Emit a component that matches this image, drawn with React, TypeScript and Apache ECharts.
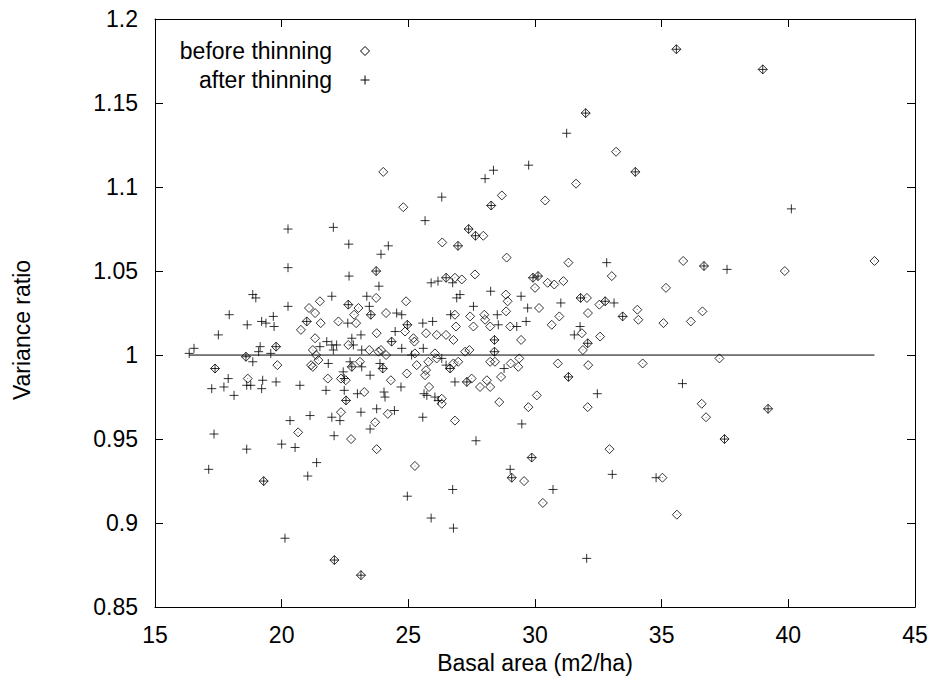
import React, { useEffect, useRef } from "react";
import * as echarts from "echarts";

// Basal area (m2/ha), variance ratio
const bothPeriods: [number, number][] = [
  [32.0, 1.144], [28.27, 1.089], [26.96, 1.065], [27.38, 1.075], [27.65, 1.071],
  [35.58, 1.182], [38.99, 1.17], [33.96, 1.109], [36.67, 1.053], [23.73, 1.05],
  [22.63, 1.03], [23.52, 1.024], [20.99, 1.02], [24.96, 1.018], [26.49, 1.046],
  [29.92, 1.046], [30.12, 1.047], [31.8, 1.034], [18.59, 0.999], [19.78, 1.005],
  [17.37, 0.992], [24.34, 1.008], [22.77, 0.993], [23.99, 0.992], [22.54, 0.973],
  [28.4, 1.009], [32.08, 1.007], [28.4, 1.002], [31.32, 0.987], [27.31, 0.984],
  [29.87, 0.939], [32.77, 1.032], [33.46, 1.023], [39.2, 0.968], [37.48, 0.95],
  [19.29, 0.925], [22.08, 0.878], [23.13, 0.869], [29.08, 0.927],
];

const beforeOnly: [number, number][] = [
  [24.01, 1.109], [31.62, 1.102], [28.69, 1.095], [30.4, 1.092], [24.8, 1.088],
  [26.34, 1.067], [27.96, 1.071], [28.88, 1.058], [33.2, 1.121], [33.03, 1.047],
  [35.85, 1.056], [39.86, 1.05], [43.4, 1.056], [23.73, 1.034], [24.91, 1.032],
  [21.51, 1.032], [21.08, 1.028], [21.32, 1.025], [23.03, 1.028], [22.86, 1.024],
  [24.12, 1.025], [21.54, 1.019], [22.24, 1.02], [22.94, 1.019], [26.84, 1.046],
  [27.11, 1.045], [27.63, 1.048], [30.0, 1.04], [30.5, 1.043], [30.76, 1.042],
  [31.12, 1.044], [31.32, 1.055], [28.85, 1.036], [28.92, 1.032], [30.16, 1.028],
  [32.05, 1.034], [26.84, 1.024], [27.44, 1.023], [28.0, 1.024], [28.03, 1.021],
  [28.86, 1.026], [30.96, 1.023], [26.88, 1.017], [27.57, 1.017], [28.23, 1.017],
  [29.02, 1.017], [30.66, 1.018], [32.09, 1.025], [19.83, 0.994], [18.66, 0.986],
  [20.65, 0.954], [20.76, 1.015], [21.32, 1.01], [23.75, 1.013], [24.87, 1.014],
  [25.2, 1.01], [25.24, 1.008], [25.7, 1.013], [26.12, 1.012], [21.23, 1.003],
  [22.63, 1.006], [23.46, 1.003], [23.82, 1.002], [23.92, 1.003], [24.12, 1.0],
  [25.26, 1.001], [26.05, 1.001], [26.12, 0.998], [25.79, 0.996], [21.36, 1.0],
  [21.45, 0.997], [21.16, 0.994], [21.23, 0.993], [23.09, 0.996], [24.94, 0.989],
  [25.33, 0.994], [25.7, 0.991], [25.66, 0.988], [21.82, 0.986], [22.34, 0.986],
  [22.53, 0.985], [24.31, 0.985], [25.82, 0.981], [23.26, 0.978], [24.19, 0.965],
  [22.34, 0.966], [23.69, 0.96], [22.74, 0.95], [23.75, 0.944], [26.49, 1.012],
  [26.78, 1.009], [29.45, 1.009], [31.85, 1.013], [31.89, 1.003], [27.24, 1.002],
  [27.41, 1.003], [28.23, 0.996], [28.42, 0.996], [29.04, 0.995], [29.38, 0.998],
  [29.34, 0.993], [30.9, 0.995], [32.1, 0.994], [26.78, 0.995], [26.97, 0.996],
  [26.65, 0.992], [28.66, 0.987], [27.5, 0.986], [28.1, 0.985], [28.23, 0.981],
  [27.83, 0.981], [26.32, 0.974], [26.32, 0.971], [28.59, 0.972], [30.07, 0.976],
  [29.74, 0.969], [32.08, 0.969], [26.84, 0.961], [35.17, 1.04], [32.54, 1.03],
  [34.04, 1.027], [34.08, 1.021], [35.07, 1.019], [36.15, 1.02], [36.61, 1.026],
  [32.57, 1.011], [34.25, 0.995], [37.28, 0.998], [36.58, 0.971], [36.75, 0.963],
  [32.94, 0.944], [25.26, 0.934], [29.57, 0.925], [30.31, 0.912], [35.03, 0.927],
  [35.6, 0.905],
];

const afterOnly: [number, number][] = [
  [31.25, 1.132], [29.75, 1.113], [28.36, 1.11], [28.03, 1.105], [26.32, 1.094],
  [25.66, 1.08], [22.04, 1.076], [22.65, 1.066], [24.21, 1.065], [23.92, 1.06],
  [40.12, 1.087], [32.83, 1.055], [37.58, 1.051], [20.25, 1.075], [20.25, 1.052],
  [18.86, 1.036], [18.98, 1.034], [20.25, 1.029], [17.93, 1.024], [18.64, 1.018],
  [19.21, 1.02], [19.38, 1.019], [19.67, 1.023], [19.7, 1.017], [22.66, 1.047],
  [23.84, 1.041], [25.9, 1.043], [26.17, 1.044], [21.98, 1.035], [23.36, 1.035],
  [23.46, 1.029], [24.54, 1.025], [24.74, 1.024], [22.61, 1.019], [25.57, 1.019],
  [25.96, 1.02], [26.75, 1.043], [28.25, 1.038], [27.04, 1.036], [26.91, 1.034],
  [29.45, 1.035], [27.57, 1.029], [29.71, 1.028], [31.02, 1.031], [26.67, 1.024],
  [28.51, 1.024], [29.65, 1.02], [28.55, 1.018], [29.28, 1.017], [31.78, 1.017],
  [17.5, 1.012], [16.54, 1.004], [16.35, 1.001], [18.86, 0.996], [19.15, 1.005],
  [19.09, 1.002], [19.57, 1.001], [17.89, 0.986], [17.24, 0.98], [17.72, 0.981],
  [18.12, 0.976], [18.62, 0.982], [18.78, 0.982], [19.25, 0.985], [19.21, 0.98],
  [19.78, 0.984], [20.72, 0.982], [20.33, 0.961], [17.33, 0.953], [20.0, 0.947],
  [20.53, 0.945], [18.62, 0.944], [23.13, 1.012], [24.48, 1.014], [21.78, 1.008],
  [21.98, 1.006], [22.17, 1.006], [21.51, 1.005], [22.04, 1.003], [22.77, 1.01],
  [22.83, 1.006], [23.16, 1.003], [24.74, 1.004], [25.13, 1.0], [25.59, 1.004],
  [21.84, 0.995], [22.7, 0.996], [23.16, 0.993], [23.88, 0.995], [22.43, 0.99],
  [22.47, 0.986], [23.49, 0.988], [24.71, 0.981], [25.62, 0.977], [25.73, 0.976],
  [26.05, 0.975], [26.18, 0.973], [21.75, 0.979], [22.47, 0.979], [22.99, 0.977],
  [24.04, 0.978], [24.08, 0.975], [23.13, 0.966], [23.75, 0.968], [24.45, 0.967],
  [21.12, 0.964], [21.98, 0.963], [22.3, 0.961], [25.57, 0.963], [23.49, 0.956],
  [22.07, 0.952], [31.55, 1.012], [26.32, 0.998], [26.49, 0.994], [26.65, 0.992],
  [28.78, 0.992], [26.84, 0.984], [29.48, 0.959], [27.67, 0.949], [33.12, 1.031],
  [35.82, 0.983], [32.46, 0.977], [17.12, 0.932], [21.03, 0.928], [21.38, 0.936],
  [20.13, 0.891], [24.96, 0.916], [26.75, 0.92], [25.9, 0.903], [26.78, 0.897],
  [29.02, 0.932], [30.71, 0.92], [32.04, 0.879], [33.05, 0.929], [34.78, 0.927],
];

const xTicks = { min: 15, max: 45, interval: 5 };
const yTicks = { min: 0.85, max: 1.2, interval: 0.05 };
const seriesNames = ["before thinning", "after thinning"];
const referenceRatio = 1;

const FONT = "Liberation Sans, Arial, Helvetica, sans-serif";
const FS = 23;
const DIAMOND = "path://M5,0L10,5L5,10L0,5Z M5,4.7L5,5.3";
const PLUS = "path://M0,5L10,5 M5,0L5,10";

export default function App() {
  const ref = useRef<HTMLDivElement>(null);
  useEffect(() => {
    if (!ref.current) return;
    const chart = echarts.init(ref.current, undefined, { renderer: "svg" });
    const before = [...beforeOnly, ...bothPeriods];
    const after = [...afterOnly, ...bothPeriods];
    const allX = [...before, ...after].map((p) => p[0]);
    const refLine = [
      [Math.min(...allX), referenceRatio],
      [Math.max(...allX), referenceRatio],
    ];
    const axisLine = { show: true, lineStyle: { color: "#000", width: 1 } };
    const tick = { show: true, inside: true, length: 8, lineStyle: { color: "#000" } };
    const label = { color: "#000", fontSize: FS, fontFamily: FONT };
    const lx = 365;
    chart.setOption({
      animation: false,
      backgroundColor: "#fff",
      grid: { left: 155, right: 16, top: 19, bottom: 70 },
      xAxis: [
        {
          type: "value",
          ...xTicks,
          axisLine,
          axisTick: tick,
          splitLine: { show: false },
          axisLabel: { ...label, margin: 16 },
          name: "Basal area (m2/ha)",
          nameLocation: "middle",
          nameGap: 43,
          nameTextStyle: { color: "#000", fontSize: FS, fontFamily: FONT },
        },
        {
          type: "value",
          position: "top",
          ...xTicks,
          axisLine,
          axisTick: tick,
          splitLine: { show: false },
          axisLabel: { show: false },
        },
      ],
      yAxis: [
        {
          type: "value",
          ...yTicks,
          axisLine,
          axisTick: tick,
          splitLine: { show: false },
          axisLabel: {
            ...label,
            margin: 17,
            formatter: (v: number) => String(+v.toFixed(2)),
          },
        },
        {
          type: "value",
          position: "right",
          ...yTicks,
          axisLine,
          axisTick: tick,
          splitLine: { show: false },
          axisLabel: { show: false },
        },
      ],
      graphic: [
        {
          type: "text",
          x: 22,
          y: 330,
          rotation: Math.PI / 2,
          style: {
            text: "Variance ratio",
            fill: "#000",
            font: `${FS}px ${FONT}`,
            textAlign: "center",
            textVerticalAlign: "middle",
          },
        },
        {
          type: "text",
          x: 332,
          y: 51,
          style: {
            text: seriesNames[0],
            fill: "#000",
            font: `${FS}px ${FONT}`,
            textAlign: "right",
            textVerticalAlign: "middle",
          },
        },
        {
          type: "polygon",
          shape: { points: [[lx, 46.5], [lx + 4.5, 51], [lx, 55.5], [lx - 4.5, 51]] },
          style: { fill: "none", stroke: "#000", lineWidth: 1 },
        },
        {
          type: "text",
          x: 332,
          y: 80,
          style: {
            text: seriesNames[1],
            fill: "#000",
            font: `${FS}px ${FONT}`,
            textAlign: "right",
            textVerticalAlign: "middle",
          },
        },
        {
          type: "line",
          shape: { x1: lx - 4.5, y1: 80, x2: lx + 4.5, y2: 80 },
          style: { stroke: "#000", lineWidth: 1 },
        },
        {
          type: "line",
          shape: { x1: lx, y1: 75.5, x2: lx, y2: 84.5 },
          style: { stroke: "#000", lineWidth: 1 },
        },
      ],
      series: [
        {
          name: "reference",
          type: "line",
          data: refLine,
          symbol: "none",
          lineStyle: { color: "#000", width: 1 },
          silent: true,
        },
        {
          name: seriesNames[0],
          type: "scatter",
          data: before,
          symbol: DIAMOND,
          symbolSize: 9,
          itemStyle: { color: "rgba(0,0,0,0)", borderColor: "#000", borderWidth: 1 },
        },
        {
          name: seriesNames[1],
          type: "scatter",
          data: after,
          symbol: PLUS,
          symbolSize: 9,
          itemStyle: { color: "rgba(0,0,0,0)", borderColor: "#000", borderWidth: 1 },
        },
      ],
    });
    return () => chart.dispose();
  }, []);
  return (
    <div
      ref={ref}
      style={{ position: "fixed", left: 0, top: 0, width: 931, height: 679 }}
    />
  );
}
